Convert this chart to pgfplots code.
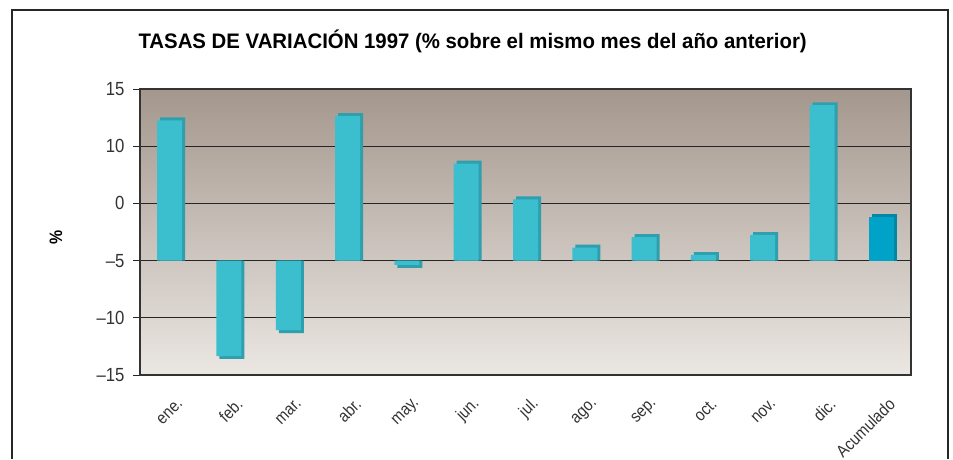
\documentclass[border=0pt]{standalone}
\usepackage{pgfplots}
\pgfplotsset{compat=1.18}
\usepackage{pgfplotstable}
\usepackage{fontspec}
\setmainfont{Liberation Sans}[FakeStretch=0.88]
\newfontfamily\titlefont{Liberation Sans}[FakeStretch=0.97]
\definecolor{barface}{HTML}{3BBFCF}
\definecolor{barside}{HTML}{2F9FAD}
\definecolor{acuface}{HTML}{00A2C7}
\definecolor{acuside}{HTML}{0087A6}
\definecolor{bgtop}{HTML}{A4978D}
\definecolor{bgmid}{HTML}{C6BCB4}
\definecolor{bgbot}{HTML}{EBE7E3}

\pgfplotstableread{
i v
0 12.26
1 -8.34
2 -6.07
3 12.64
4 -0.38
5 8.48
6 5.36
7 1.14
8 2.05
9 0.49
10 2.24
11 13.58
}\months
\pgfplotstableread{
i v
12 3.85
}\acum

\begin{document}
\begin{tikzpicture}
\useasboundingbox (0,0) rectangle (953pt,459pt);
\fill[white] (0,0) rectangle (953pt,459pt);
\draw[line width=2pt, black!85] (12pt,0) -- (12pt,449pt) -- (948pt,449pt) -- (948pt,0);
\node[anchor=base west, font=\titlefont\bfseries\fontsize{21}{21}\selectfont] at (135pt,410.7pt)
  {TASAS DE VARIACIÓN 1997 (\% sobre el mismo mes del año anterior)};
\node[rotate=90, font=\bfseries\fontsize{18}{18}\selectfont] at (56pt,222pt) {\%};
\begin{axis}[
  at={(140pt,84pt)}, anchor=south west,
  scale only axis, width=771pt, height=286pt,
  xmin=-0.5, xmax=12.5, ymin=-10, ymax=15,
  xtick={0,...,12},
  xticklabels={ene.,feb.,mar.,abr.,may.,jun.,jul.,ago.,sep.,oct.,nov.,dic.,Acumulado},
  x tick style={draw=none},
  xticklabel style={font=\fontsize{17}{17}\selectfont, text=black!80, xshift=13pt, yshift=-17pt, rotate=45, anchor=east},
  ytick={-10,-5,0,5,10,15},
  yticklabels={\textendash15,\textendash10,\textendash5,0,10,15},
  ytick pos=left, tick align=outside, major tick length=7pt,
  y tick style={black!85, line width=1pt},
  yticklabel style={font=\fontsize{19}{19}\selectfont, text=black!80, xshift=-5pt},
  ymajorgrids, grid style={black!85, line width=1.2pt},
  axis line style={black!80, line width=1.3pt},
  axis background/.style={top color=bgtop, middle color=bgmid, bottom color=bgbot},
]
\addplot[ybar, bar width=25pt, bar shift=3pt, fill=barside, draw=none]
  table[x=i, y expr={\thisrow{v}+0.26*sign(\thisrow{v})}] {\months};
\addplot[ybar, bar width=25pt, bar shift=0pt, fill=barface, draw=none]
  table[x=i, y=v] {\months};
\addplot[ybar, bar width=25pt, bar shift=3pt, fill=acuside, draw=none]
  table[x=i, y expr={\thisrow{v}+0.26*sign(\thisrow{v})}] {\acum};
\addplot[ybar, bar width=25pt, bar shift=0pt, fill=acuface, draw=none]
  table[x=i, y=v] {\acum};
\end{axis}
\end{tikzpicture}
\end{document}
